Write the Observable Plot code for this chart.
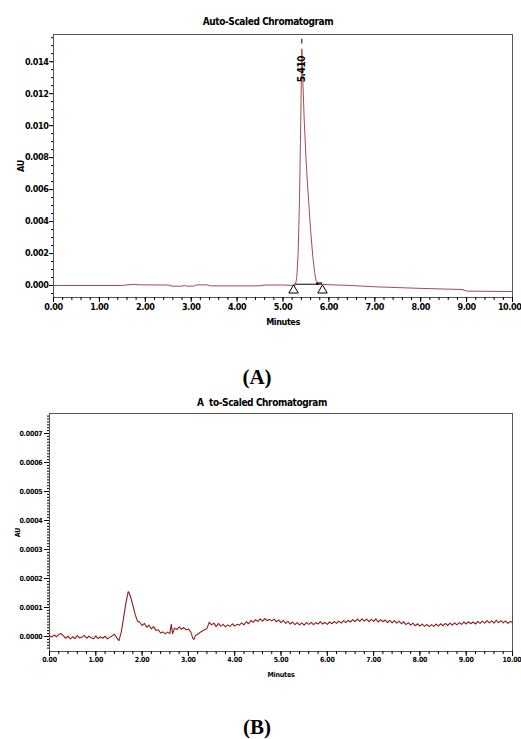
<!DOCTYPE html>
<html><head><meta charset="utf-8">
<script src="https://cdn.jsdelivr.net/npm/d3@7"></script>
<script src="https://cdn.jsdelivr.net/npm/@observablehq/plot@0.6"></script>
<style>
body{margin:0;background:#fff;}
#wrap{position:relative;width:521px;height:739px;overflow:hidden;background:#fff;}
.title{position:absolute;font-family:"Liberation Sans Narrow","DejaVu Sans Condensed","Liberation Sans",sans-serif;font-stretch:condensed;font-weight:bold;font-size:10px;letter-spacing:-0.4px;line-height:1;white-space:pre;transform:translateX(-50%);color:#000;}
.panel{position:absolute;font-family:"Liberation Serif","Times New Roman",serif;font-weight:bold;font-size:21px;line-height:1;transform:translateX(-50%);color:#000;}
#wrap svg{position:absolute;left:0;}
</style></head><body>
<div id="wrap">
  <div class="title" style="left:268px;top:17px;">Auto-Scaled Chromatogram</div>
  <div class="panel" style="left:257px;top:367px;">(A)</div>
  <div class="title" style="left:262px;top:398px;">A  to-Scaled Chromatogram</div>
  <div class="panel" style="left:257px;top:717px;">(B)</div>
</div>
<script>
const FONT = '"Liberation Sans Narrow","DejaVu Sans Condensed","Liberation Sans",sans-serif';

// ---- shared x ticks (minutes) ----
const xTickLabels = [0,1,2,3,4,5,6,7,8,9,10];
const xLastTick = [10];

// ---- Chart A ----
const yTicksA = [0,0.002,0.004,0.006,0.008,0.010,0.012,0.014];
const timeA = [0,1.5,1.6,1.75,1.9,2.5,2.58,2.8,2.85,2.9,3.05,3.12,3.35,3.42,4.5,4.6,5.0,5.2,5.27,
  5.30,5.33,5.36,5.38,5.40,5.41,5.43,5.46,5.50,5.53,5.56,5.60,5.65,5.69,5.72,5.78,5.85,
  6.0,6.5,7.0,7.5,8.0,8.5,8.9,9.0,10.0];
const auA = [0,0,0.00004,0.00007,0.00004,0.00003,-0.00004,-0.00004,0,-0.00004,-0.00004,0.00004,0.00004,-0.00002,-0.00002,0.00003,0.00003,0.00001,0.00002,
  0.0005,0.002,0.0055,0.009,0.013,0.0148,0.013,0.0105,0.008,0.0065,0.0052,0.0035,0.0018,0.0008,0.0003,0.00012,0.00008,
  0.00005,0,-0.00008,-0.00013,-0.00018,-0.00022,-0.00025,-0.00035,-0.00038];
const peakA = [{t:5.41, v:0.0148, label:"5.410"}];
const peakTickA = [{t:5.41, v1:0.0151, v2:0.0154}];
const baseMarksA = [{t:5.23, v:-0.0003},{t:5.86, v:-0.0003}];
const baseLineA = [{t:5.25, v:0.00008},{t:5.78, v:0.00008}];
const baseBoxA = [{t1:5.73, t2:5.86, v1:0.00003, v2:0.00016}];

// ---- Chart B ----
const yTicksB = [0,0.0001,0.0002,0.0003,0.0004,0.0005,0.0006,0.0007];
const traceB = [
[0.00,0.3e-5],[0.05,-0.2e-5],[0.10,0.5e-5],[0.15,-0.1e-5],[0.20,0.7e-5],[0.25,1.0e-5],[0.30,0.2e-5],[0.35,-0.6e-5],
[0.40,0.1e-5],[0.45,-0.8e-5],[0.50,-0.1e-5],[0.55,-0.7e-5],[0.60,0.3e-5],[0.65,-0.5e-5],[0.70,-0.2e-5],[0.75,0.4e-5],
[0.80,-0.6e-5],[0.85,0.1e-5],[0.90,-0.4e-5],[0.95,-0.8e-5],[1.00,0.2e-5],[1.05,-0.7e-5],[1.10,-0.1e-5],[1.15,-0.6e-5],
[1.20,0.1e-5],[1.25,-0.8e-5],[1.30,-0.3e-5],[1.35,0.2e-5],[1.40,0.8e-5],[1.45,-0.4e-5],[1.50,-1.4e-5],[1.55,1.5e-5],
[1.60,6.5e-5],[1.65,11.5e-5],[1.70,15.5e-5],[1.72,15.0e-5],[1.75,13.8e-5],[1.80,10.7e-5],[1.85,7.6e-5],[1.90,5.3e-5],
[1.95,4.9e-5],[2.00,3.8e-5],[2.05,4.5e-5],[2.10,3.2e-5],[2.15,3.9e-5],[2.20,2.6e-5],[2.25,3.4e-5],[2.30,2.1e-5],
[2.35,2.3e-5],[2.40,1.2e-5],[2.45,1.6e-5],[2.50,0.9e-5],[2.55,1.5e-5],[2.60,1.0e-5],[2.63,4.2e-5],[2.66,1.0e-5],
[2.70,2.9e-5],[2.75,2.4e-5],[2.80,3.3e-5],[2.85,2.5e-5],[2.90,3.1e-5],[2.95,2.3e-5],[3.00,2.6e-5],[3.05,1.6e-5],
[3.10,-0.8e-5],[3.12,-1.0e-5],[3.15,0.3e-5],[3.20,0.8e-5],[3.25,1.4e-5],[3.30,1.9e-5],[3.35,2.3e-5],[3.40,2.7e-5],
[3.45,4.9e-5],[3.50,4.0e-5],[3.55,4.6e-5],[3.60,3.4e-5],[3.65,4.5e-5],[3.70,3.6e-5],[3.75,4.2e-5],[3.80,3.3e-5],
[3.85,4.0e-5],[3.90,3.5e-5],[3.95,4.4e-5],[4.00,3.6e-5],[4.05,4.2e-5],[4.10,3.9e-5],[4.15,4.7e-5],[4.20,4.0e-5],
[4.25,5.1e-5],[4.30,4.4e-5],[4.35,5.5e-5],[4.40,4.9e-5],[4.45,5.8e-5],[4.50,5.2e-5],[4.55,6.1e-5],[4.60,5.3e-5],
[4.65,6.2e-5],[4.70,5.5e-5],[4.75,5.9e-5],[4.80,5.4e-5],[4.85,6.0e-5],[4.90,5.1e-5],[4.95,5.7e-5],[5.00,4.8e-5],
[5.05,5.6e-5],[5.10,4.5e-5],[5.15,5.2e-5],[5.20,4.3e-5],[5.25,5.0e-5],[5.30,4.1e-5],[5.35,4.8e-5],[5.40,4.0e-5],
[5.45,4.7e-5],[5.50,3.9e-5],[5.55,4.8e-5],[5.60,4.2e-5],[5.65,4.9e-5],[5.70,4.1e-5],[5.75,4.8e-5],[5.80,4.3e-5],
[5.85,5.1e-5],[5.90,4.3e-5],[5.95,4.9e-5],[6.00,4.2e-5],[6.05,5.0e-5],[6.10,4.4e-5],[6.15,5.2e-5],[6.20,4.5e-5],
[6.25,5.3e-5],[6.30,4.6e-5],[6.35,5.5e-5],[6.40,4.8e-5],[6.45,5.6e-5],[6.50,5.0e-5],[6.55,5.8e-5],[6.60,5.1e-5],
[6.65,6.0e-5],[6.70,5.2e-5],[6.75,6.1e-5],[6.80,5.3e-5],[6.85,6.0e-5],[6.90,5.1e-5],[6.95,5.9e-5],[7.00,5.2e-5],
[7.05,6.1e-5],[7.10,5.0e-5],[7.15,5.8e-5],[7.20,5.1e-5],[7.25,5.7e-5],[7.30,4.8e-5],[7.35,5.6e-5],[7.40,4.7e-5],
[7.45,5.5e-5],[7.50,4.6e-5],[7.55,5.3e-5],[7.60,4.4e-5],[7.65,5.1e-5],[7.70,4.1e-5],[7.75,4.8e-5],[7.80,3.9e-5],
[7.85,4.6e-5],[7.90,3.7e-5],[7.95,4.4e-5],[8.00,3.6e-5],[8.05,4.3e-5],[8.10,3.5e-5],[8.15,4.2e-5],[8.20,3.4e-5],
[8.25,4.1e-5],[8.30,3.5e-5],[8.35,4.3e-5],[8.40,3.6e-5],[8.45,4.4e-5],[8.50,3.7e-5],[8.55,4.5e-5],[8.60,3.8e-5],
[8.65,4.6e-5],[8.70,3.9e-5],[8.75,4.7e-5],[8.80,4.0e-5],[8.85,4.8e-5],[8.90,4.2e-5],[8.95,5.0e-5],[9.00,4.3e-5],
[9.05,5.1e-5],[9.10,4.4e-5],[9.15,5.0e-5],[9.20,4.3e-5],[9.25,5.2e-5],[9.30,4.5e-5],[9.35,5.3e-5],[9.40,4.6e-5],
[9.45,5.5e-5],[9.50,4.7e-5],[9.55,5.4e-5],[9.60,4.6e-5],[9.65,5.6e-5],[9.70,4.8e-5],[9.75,5.5e-5],[9.80,4.7e-5],
[9.85,5.4e-5],[9.90,4.5e-5],[9.95,5.2e-5],[10.00,4.8e-5]];

const dataA = timeA.map((t,i)=>({t, v:auA[i]}));
const dataB = traceB.map(([t,v])=>({t, v}));
const xMinor = d3.range(0, 10.0001, 0.2);
const yMinorA = d3.range(-0.0005, 0.01551, 0.0005);
const yMinorB = d3.range(-0.00004, 0.000761, 0.00001);
const fmtX = d => d === 10 ? "" : d.toFixed(2);

const styleA = {fontFamily:FONT, fontSize:"9px", fontWeight:"bold", letterSpacing:"-0.4px", color:"#000", background:"transparent", overflow:"visible"};

const plotA = Plot.plot({
  width:521, height:335, marginLeft:53, marginRight:9, marginTop:34, marginBottom:38,
  style: styleA,
  x:{domain:[0,10]},
  y:{domain:[-0.00075,0.0157]},
  marks:[
    Plot.frame({stroke:"#555", strokeWidth:1}),
    Plot.axisY(yMinorA, {tickSize:2, tickFormat:()=>"", label:null}),
    Plot.axisY(yTicksA, {tickSize:4, tickPadding:1, tickFormat:d=>d.toFixed(3), label:"AU", labelAnchor:"center", labelOffset:36, labelArrow:"none"}),
    Plot.axisX(xMinor, {tickSize:3, tickFormat:()=>"", label:null}),
    Plot.axisX(xTickLabels, {tickSize:5, tickPadding:1, tickFormat:fmtX, label:"Minutes", labelAnchor:"center", labelOffset:27, labelArrow:"none"}),
    Plot.axisX(xLastTick, {tickSize:0, tickPadding:6, textAnchor:"end", dx:9, tickFormat:d=>d.toFixed(2), label:null}),
    Plot.line(baseLineA, {x:"t", y:"v", stroke:"#000", strokeWidth:1}),
    Plot.rect(baseBoxA, {x1:"t1", x2:"t2", y1:"v1", y2:"v2", fill:"#000"}),
    Plot.line(dataA, {x:"t", y:"v", stroke:"#a84a4a", strokeWidth:1}),
    Plot.dot(baseMarksA, {x:"t", y:"v", symbol:"triangle", r:3.5, fill:"#fff", stroke:"#000", strokeWidth:1}),
    Plot.ruleX(peakTickA, {x:"t", y1:"v1", y2:"v2", stroke:"#000"}),
    Plot.text(peakA, {x:"t", y:"v", text:"label", rotate:-90, textAnchor:"end", dy:7, fontSize:10, fontWeight:"bold", fill:"#000"})
  ]
});
plotA.style.top = "0px";

const styleB = {fontFamily:FONT, fontSize:"7px", fontWeight:"bold", letterSpacing:"-0.2px", color:"#000", background:"transparent", overflow:"visible"};
const plotB = Plot.plot({
  width:521, height:288, marginLeft:49, marginRight:9, marginTop:18, marginBottom:32,
  style: styleB,
  x:{domain:[0,10]},
  y:{domain:[-0.0000517,0.000769]},
  marks:[
    Plot.frame({stroke:"#555", strokeWidth:1}),
    Plot.axisY(yMinorB, {tickSize:2, tickFormat:()=>"", label:null}),
    Plot.axisY(yTicksB, {tickSize:5, tickPadding:2, tickFormat:d=>d.toFixed(4), label:"AU", labelAnchor:"center", labelOffset:34, labelArrow:"none"}),
    Plot.axisX(xMinor, {tickSize:3, tickFormat:()=>"", label:null}),
    Plot.axisX(xTickLabels, {tickSize:5, tickPadding:1, tickFormat:fmtX, label:"Minutes", labelAnchor:"center", labelOffset:25, labelArrow:"none"}),
    Plot.axisX(xLastTick, {tickSize:0, tickPadding:6, textAnchor:"end", dx:9, tickFormat:d=>d.toFixed(2), label:null}),
    Plot.line(dataB, {x:"t", y:"v", stroke:"#8e1e1e", strokeWidth:1.1})
  ]
});
plotB.style.top = "395px";

const wrap = document.getElementById("wrap");
wrap.appendChild(plotA);
wrap.appendChild(plotB);
</script>
</body></html>
